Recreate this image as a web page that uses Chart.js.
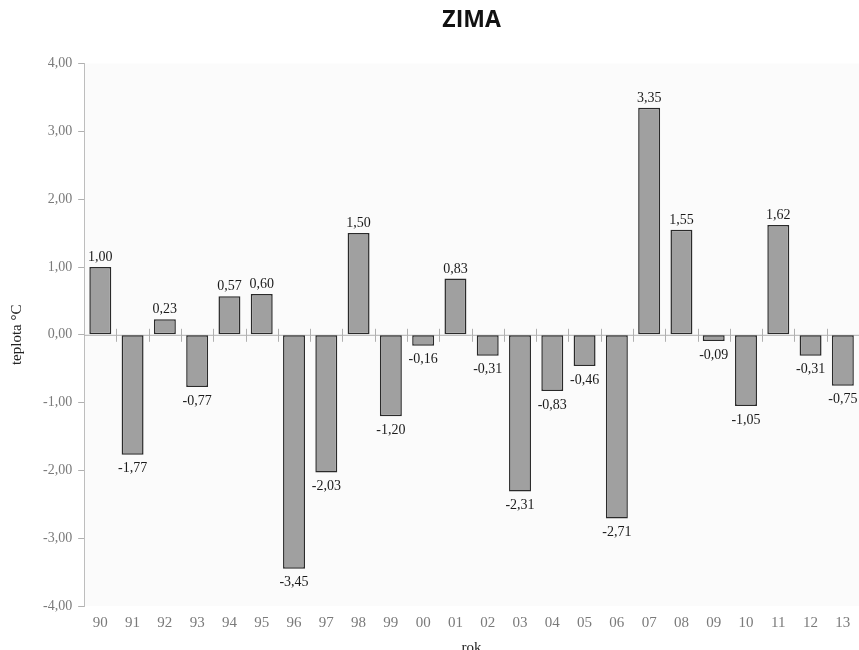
<!DOCTYPE html>
<html>
<head>
<meta charset="utf-8">
<script src="https://cdn.jsdelivr.net/npm/chart.js@4/dist/chart.umd.min.js"></script>
<style>
html,body{margin:0;padding:0;background:#fff;}
#wrap{width:859px;height:650px;position:relative;}
</style>
</head>
<body>
<div id="wrap"><canvas id="c" width="859" height="650"></canvas></div>
<script>
const titleText = "ZIMA";
const xTitle = "rok";
const yTitle = "teplota °C";
const years = ["90","91","92","93","94","95","96","97","98","99","00","01","02","03","04","05","06","07","08","09","10","11","12","13"];
const values = [1.00,-1.77,0.23,-0.77,0.57,0.60,-3.45,-2.03,1.50,-1.20,-0.16,0.83,-0.31,-2.31,-0.83,-0.46,-2.71,3.35,1.55,-0.09,-1.05,1.62,-0.31,-0.75];
const yMin = -4, yMax = 4, yStep = 1;

const fmt = v => v.toFixed(2).replace('.', ',');
const SERIF = "'Liberation Serif','DejaVu Serif',serif";

const decor = {
  id: 'decor',
  beforeDraw(chart) {
    const {ctx, chartArea: a} = chart;
    ctx.save();
    ctx.fillStyle = '#fbfbfb';
    ctx.fillRect(a.left, a.top, a.right - a.left, a.bottom - a.top);
    ctx.restore();
  },
  beforeDatasetsDraw(chart) {
    const {ctx, chartArea: a, scales} = chart;
    const y0 = scales.y.getPixelForValue(0);
    ctx.save();
    ctx.strokeStyle = '#b0b0b0';
    ctx.lineWidth = 1;
    ctx.beginPath();
    ctx.moveTo(a.left, y0 + 0.5);
    ctx.lineTo(a.right, y0 + 0.5);
    const n = years.length;
    const w = (a.right - a.left) / n;
    for (let i = 1; i < n; i++) {
      const x = Math.round(a.left + i * w) + 0.5;
      ctx.moveTo(x, y0 - 6);
      ctx.lineTo(x, y0 + 7);
    }
    ctx.stroke();
    ctx.restore();
  },
  afterDatasetsDraw(chart) {
    const {ctx} = chart;
    const meta = chart.getDatasetMeta(0);
    ctx.save();
    ctx.font = "14px " + SERIF;
    ctx.fillStyle = '#1a1a1a';
    ctx.textAlign = 'center';
    meta.data.forEach((bar, i) => {
      const v = values[i];
      if (v >= 0) {
        ctx.textBaseline = 'alphabetic';
        ctx.fillText(fmt(v), bar.x, bar.y - 6);
      } else {
        ctx.textBaseline = 'top';
        ctx.fillText(fmt(v), bar.x, bar.y + 7);
      }
    });
    ctx.restore();
  }
};

new Chart(document.getElementById('c'), {
  type: 'bar',
  data: {
    labels: years,
    datasets: [{
      data: values,
      backgroundColor: '#a0a0a0',
      borderColor: '#2a2a2a',
      borderWidth: 1.5,
      borderSkipped: false,
      barPercentage: 0.68,
      categoryPercentage: 1.0
    }]
  },
  options: {
    responsive: false,
    animation: false,
    devicePixelRatio: 1,
    layout: { padding: { left: 0, right: -3, top: 0, bottom: -7 } },
    plugins: {
      legend: { display: false },
      tooltip: { enabled: false },
      title: {
        display: true,
        text: titleText,
        fullSize: false,
        color: '#111',
        font: { family: "'Open Sans','Liberation Sans',sans-serif", size: 23, weight: 'bold' },
        padding: { top: 7, bottom: 29 }
      }
    },
    scales: {
      x: {
        grid: { display: false, drawTicks: false },
        border: { display: false },
        ticks: { color: '#7a7a7a', font: { family: SERIF, size: 15 }, padding: 8, maxRotation: 0, autoSkip: false },
        title: { display: true, text: xTitle, color: '#222', font: { family: SERIF, size: 15 }, padding: { top: -1, bottom: 0 } }
      },
      y: {
        min: yMin, max: yMax,
        grid: { drawOnChartArea: false, drawTicks: true, tickLength: 6, color: '#b0b0b0' },
        border: { display: true, color: '#bdbdbd' },
        ticks: { stepSize: yStep, color: '#7a7a7a', font: { family: SERIF, size: 14 }, padding: 6, callback: v => fmt(v) },
        title: { display: true, text: yTitle, color: '#222', font: { family: SERIF, size: 15 }, padding: { top: 8, bottom: 11 } }
      }
    }
  },
  plugins: [decor]
});
</script>
</body>
</html>
